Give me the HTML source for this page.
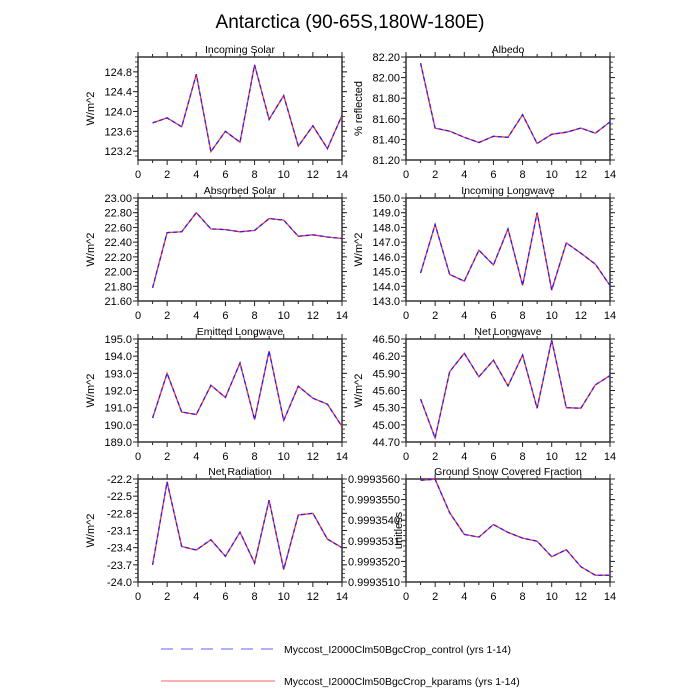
<!DOCTYPE html>
<html><head><meta charset="utf-8"><style>
body{margin:0;background:#fff;}
svg{display:block;font-family:"Liberation Sans",sans-serif;}
</style></head><body>
<svg id="s" width="700" height="700" xmlns="http://www.w3.org/2000/svg">
<rect width="700" height="700" fill="#fff"/>
<text x="350" y="28" font-size="19" text-anchor="middle">Antarctica (90-65S,180W-180E)</text>
<line x1="161" y1="649" x2="275" y2="649" stroke="#6060ff" stroke-width="1" stroke-dasharray="12,8"/>
<text x="284" y="653" font-size="10.5">Myccost_I2000Clm50BgcCrop_control (yrs 1-14)</text>
<line x1="161" y1="681" x2="275" y2="681" stroke="#ff6060" stroke-width="1"/>
<text x="284" y="685" font-size="10.5">Myccost_I2000Clm50BgcCrop_kparams (yrs 1-14)</text>
</svg>
<script>
var S=document.getElementById('s'),NS="http://www.w3.org/2000/svg";
function el(t,a,txt){var e=document.createElementNS(NS,t);for(var k in a)e.setAttribute(k,a[k]);if(txt!=null)e.textContent=txt;S.appendChild(e);return e;}
var panels=[
{x:138,y:57,t:"Incoming Solar",yl:"W/m^2",min:123.02,max:125.1,ticks:[123.2,123.6,124.0,124.4,124.8],fmt:1,minor:0.1,
d:[123.77,123.87,123.69,124.75,123.19,123.6,123.38,124.94,123.84,124.32,123.3,123.71,123.25,123.92]},
{x:406,y:57,t:"Albedo",yl:"% reflected",min:81.2,max:82.2,ticks:[81.2,81.4,81.6,81.8,82.0,82.2],fmt:2,minor:0.05,
d:[82.14,81.51,81.48,81.42,81.37,81.43,81.42,81.64,81.36,81.45,81.47,81.51,81.46,81.57]},
{x:138,y:198,t:"Absorbed Solar",yl:"W/m^2",min:21.6,max:23.0,ticks:[21.6,21.8,22.0,22.2,22.4,22.6,22.8,23.0],fmt:2,minor:0.05,
d:[21.78,22.53,22.54,22.80,22.58,22.57,22.54,22.56,22.72,22.70,22.48,22.50,22.47,22.45]},
{x:406,y:198,t:"Incoming Longwave",yl:"W/m^2",min:143,max:150,ticks:[143,144,145,146,147,148,149,150],fmt:1,minor:0.25,
d:[144.9,148.2,144.8,144.35,146.45,145.45,147.9,144.05,149.0,143.75,146.95,146.25,145.5,144.05]},
{x:138,y:339,t:"Emitted Longwave",yl:"W/m^2",min:189,max:195,ticks:[189,190,191,192,193,194,195],fmt:1,minor:0.25,
d:[190.4,193.0,190.75,190.6,192.3,191.6,193.6,190.3,194.3,190.25,192.25,191.55,191.2,189.9]},
{x:406,y:339,t:"Net Longwave",yl:"W/m^2",min:44.7,max:46.5,ticks:[44.7,45.0,45.3,45.6,45.9,46.2,46.5],fmt:2,minor:0.075,
d:[45.45,44.77,45.93,46.25,45.84,46.13,45.68,46.22,45.29,46.48,45.3,45.29,45.7,45.86]},
{x:138,y:479,t:"Net Radiation",yl:"W/m^2",min:-24.0,max:-22.2,ticks:[-24.0,-23.7,-23.4,-23.1,-22.8,-22.5,-22.2],fmt:1,minor:0.075,
d:[-23.7,-22.25,-23.38,-23.44,-23.26,-23.55,-23.13,-23.67,-22.57,-23.78,-22.83,-22.8,-23.25,-23.4]},
{x:406,y:479,t:"Ground Snow Covered Fraction",yl:"unitless",min:0,max:5,ticks:[0,1,2,3,4,5],
labels:["0.9993510","0.9993520","0.9993531","0.9993540","0.9993550","0.9993560"],minor:0.25,
d:[4.94,4.99,3.36,2.31,2.18,2.79,2.41,2.13,1.98,1.23,1.57,0.74,0.33,0.33]}
];
var W=204,H=103,FS=11;
panels.forEach(function(p){
 var X=function(v){return p.x+v*W/14;},Y=function(v){return p.y+H-(v-p.min)/(p.max-p.min)*H;};
 for(var i=0;i<=14;i++){var xx=X(i),L=i%2==0?5:3;
  el('line',{x1:xx,y1:p.y+H,x2:xx,y2:p.y+H+L,stroke:'#222','stroke-width':1});
  el('line',{x1:xx,y1:p.y,x2:xx,y2:p.y-L,stroke:'#222','stroke-width':1});
  if(i%2==0)el('text',{x:xx,y:p.y+H+18,'font-size':FS,'text-anchor':'middle'},String(i));}
 for(var v=Math.ceil(p.min/p.minor-1e-6)*p.minor;v<=p.max+1e-9;v+=p.minor){var yy=Y(v);
  el('line',{x1:p.x,y1:yy,x2:p.x-3,y2:yy,stroke:'#222','stroke-width':0.8});
  el('line',{x1:p.x+W,y1:yy,x2:p.x+W+3,y2:yy,stroke:'#222','stroke-width':0.8});}
 p.ticks.forEach(function(v,k){var yy=Y(v);
  el('line',{x1:p.x,y1:yy,x2:p.x-5,y2:yy,stroke:'#222','stroke-width':1});
  el('line',{x1:p.x+W,y1:yy,x2:p.x+W+5,y2:yy,stroke:'#222','stroke-width':1});
  var lab=p.labels?p.labels[k]:v.toFixed(p.fmt);
  el('text',{x:p.x-6,y:yy+4,'font-size':FS,'text-anchor':'end'},lab);});
 el('rect',{x:p.x,y:p.y,width:W,height:H,fill:'none',stroke:'#333','stroke-width':1.5});
 el('text',{x:p.x+W/2,y:p.y-4,'font-size':10.5,'text-anchor':'middle'},p.t);
 var cx=p.x-44,cy=p.y+H/2;
 if(p.labels)cx=p.x-4;
 el('text',{x:cx,y:cy,'font-size':FS,'text-anchor':'middle',transform:'rotate(-90 '+cx+' '+cy+')'},p.yl);
 var pts=p.d.map(function(v,i){return X(i+1).toFixed(1)+','+Y(v).toFixed(1);}).join(' ');
 el('polyline',{points:pts,fill:'none',stroke:'#ff3030','stroke-width':1.3});
 el('polyline',{points:pts,fill:'none',stroke:'#2020ff','stroke-width':1.3,'stroke-dasharray':'4,3'});
});
</script>
</body></html>
